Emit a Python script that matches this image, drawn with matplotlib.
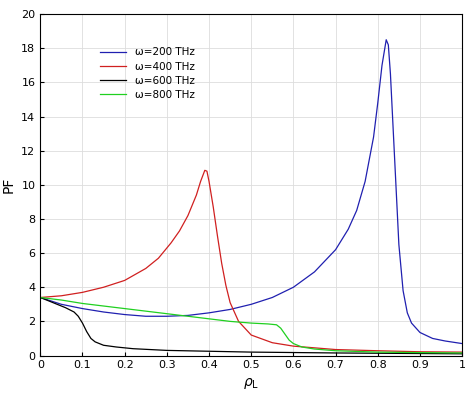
import matplotlib
matplotlib.use("Agg")
import matplotlib.pyplot as plt

x_200 = [0, 0.05, 0.1, 0.15, 0.2, 0.25, 0.3, 0.35, 0.4, 0.45, 0.5, 0.55, 0.6, 0.65, 0.7, 0.73, 0.75, 0.77, 0.79, 0.80, 0.81, 0.82, 0.825, 0.83, 0.84, 0.85, 0.86, 0.87, 0.88, 0.9, 0.93, 0.96, 1.0]
y_200 = [3.4, 3.0, 2.75, 2.55, 2.4, 2.3, 2.3, 2.35, 2.5, 2.7, 3.0, 3.4, 4.0, 4.9, 6.2, 7.4, 8.5, 10.2, 12.8, 14.8, 17.0, 18.5, 18.2, 16.5, 11.5, 6.5, 3.8, 2.5, 1.9, 1.35, 1.0, 0.85, 0.7]
x_400 = [0, 0.05, 0.1, 0.15, 0.2, 0.25, 0.28, 0.31, 0.33, 0.35, 0.37, 0.38, 0.39, 0.395, 0.4, 0.41, 0.42, 0.43, 0.44, 0.45, 0.47, 0.5, 0.55, 0.6, 0.7, 0.8, 0.9, 1.0]
y_400 = [3.4, 3.5, 3.7, 4.0, 4.4, 5.1, 5.7, 6.6, 7.3, 8.2, 9.4, 10.2, 10.85, 10.8, 10.2, 8.7, 7.0, 5.4, 4.1, 3.1, 2.0, 1.2, 0.75, 0.55, 0.35, 0.28, 0.22, 0.2]
x_600 = [0, 0.03, 0.06, 0.08, 0.09, 0.1, 0.11, 0.12, 0.13, 0.15, 0.18, 0.22, 0.3, 0.4, 0.5, 0.7, 1.0]
y_600 = [3.4, 3.1, 2.8, 2.55, 2.3, 1.9, 1.4, 1.0, 0.8, 0.6, 0.5, 0.4, 0.3, 0.25, 0.2, 0.15, 0.1]
x_800 = [0, 0.05, 0.1, 0.2, 0.3, 0.4, 0.45, 0.5, 0.54, 0.56, 0.57, 0.58, 0.59, 0.6, 0.62, 0.65, 0.7, 0.8, 0.9, 1.0]
y_800 = [3.4, 3.25, 3.05, 2.75, 2.45, 2.15, 2.0, 1.9, 1.85, 1.8, 1.6, 1.25, 0.9, 0.7, 0.5, 0.38, 0.28, 0.2, 0.17, 0.15]

plt.rcParams['font.family'] = ['DejaVu Sans']
fig = plt.figure(figsize=(4.74, 4.04), dpi=100)
ax = fig.add_axes([0.085, 0.12, 0.89, 0.845])
ax.plot(x_200, y_200, color='#2020b0', lw=0.9, label='ω=200 THz')
ax.plot(x_400, y_400, color='#d02020', lw=0.9, label='ω=400 THz')
ax.plot(x_600, y_600, color='black', lw=0.9, label='ω=600 THz')
ax.plot(x_800, y_800, color='#20d020', lw=0.9, label='ω=800 THz')
ax.set_xlim(0, 1)
ax.set_ylim(0, 20)
ax.set_xticks([i/10 for i in range(11)])
ax.set_xticklabels(['0', '0.1', '0.2', '0.3', '0.4', '0.5', '0.6', '0.7', '0.8', '0.9', '1'])
ax.set_yticks(range(0, 21, 2))
ax.tick_params(labelsize=8, direction='in', length=3)
ax.grid(True, color='#dddddd', lw=0.6)
ax.set_xlabel(r'$\rho_\mathrm{L}$', fontsize=10)
ax.set_ylabel('PF', fontsize=10)
leg = ax.legend(loc='upper left', bbox_to_anchor=(0.12, 0.93), fontsize=7.5, frameon=False,
                handlelength=2.5, labelspacing=0.4)
fig.savefig('out.png', dpi=100)
